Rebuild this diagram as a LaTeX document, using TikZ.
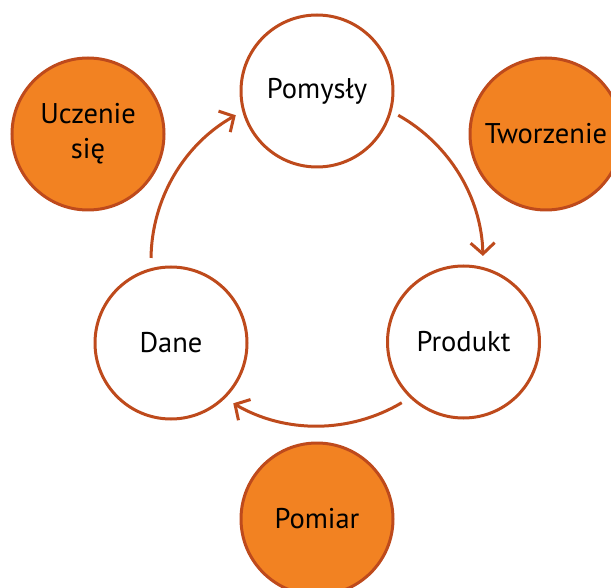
\documentclass[tikz,border=0pt]{standalone}
\usepackage{fontspec}
\setmainfont{PT Sans}
\usetikzlibrary{arrows.meta}
\definecolor{rim}{RGB}{190,74,28}
\definecolor{fillor}{RGB}{242,130,34}
\begin{document}
\begin{tikzpicture}[x=1pt,y=1pt,
  wcirc/.style={circle,draw=rim,line width=3pt,fill=white,minimum size=152pt,inner sep=0pt,font=\fontsize{28.5}{35}\selectfont,align=center},
  ocirc/.style={wcirc,fill=fillor},
  cyc/.style={draw=rim,line width=3pt,-{Straight Barb[length=11pt,width=24pt,line width=3pt]}}]
\useasboundingbox (0,0) rectangle (611,-588);
\node[wcirc] (pom) at (317,-91) {Pomysły};
\node[wcirc] (dane) at (171,-343) {Dane};
\node[wcirc] (prod) at (463.5,-342) {Produkt};
\node[ocirc] (ucz) at (88,-134) {Uczenie\\się};
\node[ocirc] (tw) at (546,-134) {Tworzenie};
\node[ocirc] (pomiar) at (317,-519) {Pomiar};
\coordinate (c) at (317,-260);
\coordinate (a1) at ([shift={(60.7:166)}]c);
\coordinate (a2) at ([shift={(-59.3:166)}]c);
\coordinate (a3) at ([shift={(179.3:166)}]c);
\draw[cyc] (a1) arc[start angle=60.7, end angle=1.4, radius=166];
\draw[cyc] (a2) arc[start angle=-59.3, end angle=-120.3, radius=166];
\draw[cyc] (a3) arc[start angle=179.3, end angle=119.3, radius=166];
\end{tikzpicture}
\end{document}
